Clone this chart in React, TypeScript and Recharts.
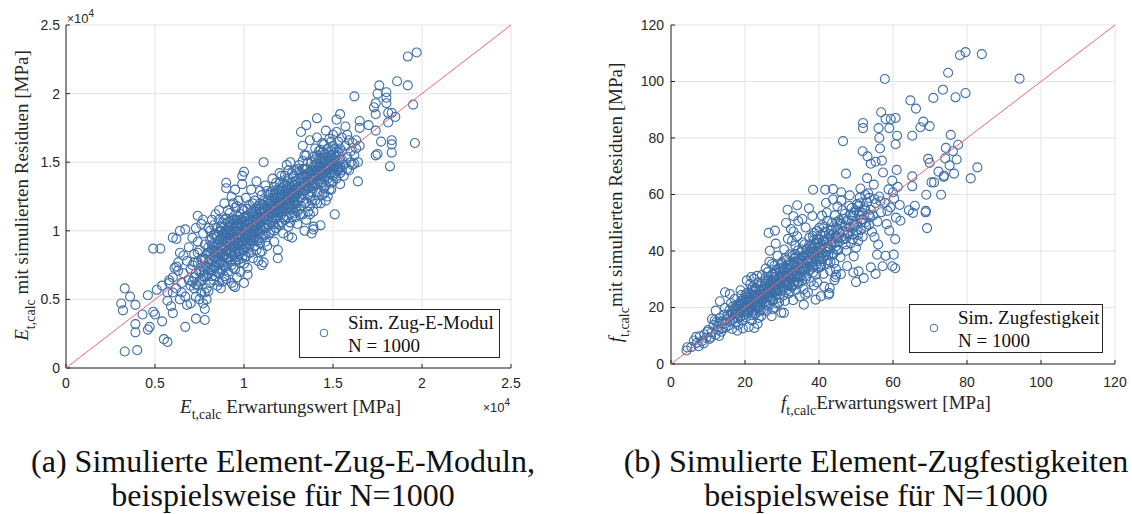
import React from "react";
import { ScatterChart, Scatter, XAxis, YAxis, ZAxis, CartesianGrid, Legend } from "recharts";

// E-Modul in units of 1e4 MPa
const eModulOutliers: [number, number][] = [
  [0.33, 0.12], [0.4, 0.13], [0.31, 0.47], [0.33, 0.58], [0.32, 0.42], [0.36, 0.52], [0.39, 0.46], [0.39, 0.32],
  [0.39, 0.26], [0.43, 0.39], [0.46, 0.28], [0.47, 0.3], [0.46, 0.53], [0.49, 0.41], [0.5, 0.39], [0.49, 0.87],
  [0.53, 0.87], [0.55, 0.21], [0.57, 0.19], [0.54, 0.34], [0.51, 0.57], [0.54, 0.6], [0.57, 0.49], [0.6, 0.4],
  [0.6, 0.95], [0.62, 0.94], [0.64, 1.0], [0.67, 1.01], [0.67, 0.3], [0.73, 0.36], [0.78, 0.35], [0.78, 0.43],
  [0.74, 1.11], [0.77, 1.08], [0.64, 0.84], [0.62, 0.74], [0.58, 0.64], [0.6, 0.55],
  [1.97, 2.3], [1.92, 2.27], [1.86, 2.09], [1.92, 2.06], [1.76, 2.06], [1.75, 2.0], [1.8, 2.01], [1.8, 1.97],
  [1.8, 1.93], [1.62, 1.98], [1.74, 1.93], [1.73, 1.9], [1.74, 1.85], [1.74, 1.73], [1.95, 1.92], [1.81, 1.86],
  [1.83, 1.86], [1.85, 1.83], [1.81, 1.79], [1.96, 1.64], [1.83, 1.66], [1.83, 1.63], [1.83, 1.57], [1.82, 1.47],
  [1.74, 1.55], [1.75, 1.56], [1.77, 1.65], [1.7, 1.77], [1.65, 1.8], [1.65, 1.75], [1.64, 1.36], [1.62, 1.49],
  [1.54, 1.85], [1.52, 1.81], [1.41, 1.82], [1.35, 1.77], [1.32, 1.72], [1.51, 1.12], [1.43, 1.04], [1.39, 1.01],
  [1.34, 1.0], [1.38, 0.98], [1.19, 0.8], [1.11, 0.77], [1.1, 0.75], [1.25, 0.96], [1.11, 1.5], [1.0, 1.43],
  [0.99, 1.4], [0.9, 1.35], [0.9, 1.31], [1.02, 0.68], [1.0, 0.62], [0.94, 0.6], [0.95, 0.59],
];

const eModulCore: [number, number][] = [
  [0.58, 0.62], [0.6, 0.66], [0.62, 0.58], [0.63, 0.71], [0.65, 0.55], [0.66, 0.69], [0.67, 0.52], [0.68, 0.78],
  [0.69, 0.64], [0.7, 0.47], [0.64, 0.5], [0.61, 0.73], [0.57, 0.55], [0.66, 0.82], [0.7, 0.6], [0.68, 0.46],
  [0.59, 0.45], [0.63, 0.77], [0.69, 0.88], [0.65, 0.62],
  [0.71, 0.75], [0.72, 0.58], [0.72, 0.83], [0.73, 0.69], [0.73, 0.52], [0.74, 0.92], [0.74, 0.77], [0.75, 0.63],
  [0.75, 0.86], [0.76, 0.71], [0.76, 0.55], [0.77, 0.98], [0.77, 0.8], [0.78, 0.66], [0.78, 0.9], [0.79, 0.74],
  [0.79, 0.58], [0.8, 0.84], [0.8, 1.02], [0.8, 0.69], [0.71, 0.95], [0.73, 1.02], [0.75, 0.5], [0.77, 0.47],
  [0.79, 0.5], [0.76, 1.05], [0.78, 0.55], [0.72, 0.66], [0.74, 0.6], [0.8, 0.56],
  [0.81, 0.79], [0.81, 0.93], [0.82, 0.71], [0.82, 1.08], [0.82, 0.86], [0.83, 0.64], [0.83, 0.97], [0.84, 0.81],
  [0.84, 1.12], [0.84, 0.74], [0.85, 0.9], [0.85, 0.6], [0.85, 1.02], [0.86, 0.84], [0.86, 0.69], [0.86, 1.15],
  [0.87, 0.95], [0.87, 0.77], [0.87, 0.58], [0.88, 1.06], [0.88, 0.88], [0.88, 0.72], [0.89, 0.99], [0.89, 0.82],
  [0.89, 1.2], [0.9, 0.65], [0.9, 0.92], [0.9, 1.09], [0.83, 0.89], [0.85, 0.77], [0.87, 1.03], [0.89, 0.75],
  [0.81, 1.0], [0.86, 0.93], [0.88, 0.63], [0.84, 0.67], [0.9, 0.8], [0.82, 0.78], [0.86, 1.08], [0.88, 0.97],
  [0.91, 0.86], [0.91, 1.02], [0.91, 0.7], [0.92, 1.13], [0.92, 0.94], [0.92, 0.78], [0.93, 1.25], [0.93, 0.88],
  [0.93, 0.62], [0.94, 1.05], [0.94, 0.97], [0.94, 0.73], [0.95, 1.17], [0.95, 0.84], [0.95, 1.3], [0.96, 0.91],
  [0.96, 1.08], [0.96, 0.66], [0.97, 1.0], [0.97, 0.79], [0.97, 1.22], [0.98, 0.95], [0.98, 1.12], [0.98, 0.7],
  [0.99, 1.03], [0.99, 0.87], [0.99, 1.34], [1.0, 0.98], [1.0, 1.15], [1.0, 0.76], [0.91, 0.95], [0.92, 1.07],
  [0.93, 0.99], [0.94, 0.82], [0.95, 1.0], [0.96, 1.18], [0.97, 0.9], [0.98, 1.05], [0.99, 0.8], [1.0, 1.06],
  [0.91, 1.15], [0.93, 0.75], [0.95, 0.93], [0.97, 1.1], [0.99, 0.96], [0.92, 0.89], [0.94, 1.2], [0.96, 0.99],
  [0.98, 0.84], [1.0, 0.9],
  [1.01, 1.04], [1.01, 0.88], [1.01, 1.24], [1.02, 0.96], [1.02, 1.11], [1.02, 0.73], [1.03, 1.02], [1.03, 1.19],
  [1.03, 0.84], [1.04, 1.07], [1.04, 0.92], [1.04, 1.3], [1.05, 1.0], [1.05, 1.15], [1.05, 0.8], [1.06, 1.09],
  [1.06, 0.95], [1.06, 1.22], [1.07, 1.03], [1.07, 0.86], [1.07, 1.36], [1.08, 1.12], [1.08, 0.98], [1.08, 0.78],
  [1.09, 1.06], [1.09, 1.2], [1.09, 0.91], [1.1, 1.14], [1.1, 1.01], [1.1, 0.85], [1.02, 1.01], [1.04, 1.13],
  [1.06, 1.02], [1.08, 1.05], [1.1, 1.26], [1.03, 0.93], [1.05, 1.06], [1.07, 1.16], [1.09, 0.99], [1.01, 0.98],
  [1.11, 1.09], [1.11, 1.22], [1.12, 0.97], [1.12, 1.15], [1.12, 1.33], [1.13, 1.05], [1.13, 0.89], [1.14, 1.2],
  [1.14, 1.1], [1.15, 1.28], [1.15, 0.99], [1.15, 1.16], [1.16, 1.07], [1.16, 1.38], [1.17, 1.13], [1.17, 0.92],
  [1.17, 1.24], [1.18, 1.02], [1.18, 1.18], [1.19, 1.3], [1.19, 1.1], [1.19, 0.86], [1.2, 1.21], [1.2, 1.04],
  [1.2, 1.42], [1.13, 1.17], [1.15, 1.12], [1.17, 1.05], [1.19, 1.16], [1.11, 1.03], [1.14, 1.26], [1.16, 1.19],
  [1.18, 1.35], [1.2, 1.14], [1.12, 1.08],
  [1.21, 1.27], [1.21, 1.12], [1.22, 1.2], [1.22, 1.35], [1.22, 0.98], [1.23, 1.25], [1.23, 1.08], [1.24, 1.31],
  [1.24, 1.17], [1.24, 1.48], [1.25, 1.22], [1.25, 1.03], [1.25, 1.38], [1.26, 1.28], [1.26, 1.13], [1.27, 1.24],
  [1.27, 1.42], [1.27, 0.95], [1.28, 1.19], [1.28, 1.33], [1.29, 1.1], [1.29, 1.27], [1.3, 1.22], [1.3, 1.45],
  [1.3, 1.05], [1.22, 1.29], [1.24, 1.24], [1.26, 1.2], [1.28, 1.27], [1.23, 1.15], [1.25, 1.3], [1.27, 1.16],
  [1.29, 1.36], [1.21, 1.4], [1.26, 1.5],
  [1.31, 1.3], [1.31, 1.16], [1.32, 1.38], [1.32, 1.24], [1.33, 1.12], [1.33, 1.45], [1.34, 1.29], [1.34, 1.2],
  [1.35, 1.55], [1.35, 1.35], [1.35, 1.08], [1.36, 1.26], [1.36, 1.42], [1.37, 1.32], [1.37, 1.18], [1.38, 1.5],
  [1.38, 1.28], [1.39, 1.14], [1.39, 1.4], [1.4, 1.33], [1.4, 1.6], [1.4, 1.22], [1.32, 1.32], [1.34, 1.4],
  [1.36, 1.14], [1.38, 1.37], [1.33, 1.62], [1.37, 1.66], [1.39, 1.03], [1.31, 1.48],
  [1.41, 1.44], [1.41, 1.28], [1.42, 1.52], [1.42, 1.36], [1.43, 1.2], [1.43, 1.47], [1.44, 1.57], [1.44, 1.4],
  [1.45, 1.5], [1.45, 1.31], [1.45, 1.63], [1.46, 1.45], [1.46, 1.22], [1.47, 1.54], [1.47, 1.38], [1.48, 1.48],
  [1.48, 1.67], [1.49, 1.42], [1.49, 1.3], [1.5, 1.53], [1.5, 1.4], [1.5, 1.7], [1.42, 1.44], [1.44, 1.49],
  [1.46, 1.52], [1.48, 1.36], [1.43, 1.59], [1.47, 1.25], [1.45, 1.43], [1.41, 1.68], [1.46, 1.73], [1.44, 1.26],
  [1.49, 1.58],
  [1.51, 1.47], [1.51, 1.6], [1.52, 1.38], [1.52, 1.55], [1.53, 1.65], [1.53, 1.44], [1.54, 1.52], [1.54, 1.34],
  [1.55, 1.58], [1.55, 1.68], [1.56, 1.48], [1.56, 1.4], [1.57, 1.62], [1.58, 1.54], [1.58, 1.45], [1.59, 1.66],
  [1.6, 1.58], [1.6, 1.5], [1.61, 1.64], [1.62, 1.55], [1.63, 1.6], [1.64, 1.5], [1.63, 1.66], [1.65, 1.62],
  [1.52, 1.72], [1.57, 1.76], [1.54, 1.42], [1.59, 1.44], [1.61, 1.48], [1.58, 1.7],
];

// the thick band along the diagonal
const eModulDense: [number, number][] = [
  [0.8, 0.88], [0.81, 0.72], [0.82, 0.95], [0.83, 0.81], [0.84, 0.97], [0.85, 0.84], [0.86, 0.76], [0.87, 0.89],
  [0.88, 0.81], [0.89, 0.93], [0.9, 0.86], [0.91, 0.99], [0.92, 0.84], [0.93, 1.04], [0.94, 0.91], [0.95, 0.78],
  [0.96, 1.03], [0.97, 0.95], [0.98, 1.0], [0.99, 0.92], [1.0, 1.02], [1.01, 0.93], [1.02, 1.06], [1.03, 0.98],
  [1.04, 1.01], [1.05, 1.1], [1.06, 0.99], [1.07, 1.09], [1.08, 0.93], [1.09, 1.13], [1.1, 1.07], [1.11, 1.16],
  [1.12, 1.02], [1.13, 1.12], [1.14, 1.04], [1.15, 1.21], [1.16, 1.13], [1.17, 1.18], [1.18, 1.09], [1.19, 1.24],
  [1.2, 1.17], [1.21, 1.2], [1.22, 1.26], [1.23, 1.19], [1.24, 1.28], [1.25, 1.17], [1.26, 1.33], [1.27, 1.29],
  [1.28, 1.24], [1.29, 1.31], [1.3, 1.27], [1.31, 1.38], [1.32, 1.29], [1.33, 1.35], [1.34, 1.45], [1.35, 1.3],
  [1.36, 1.37], [1.37, 1.43], [1.38, 1.33], [1.39, 1.47], [1.4, 1.4], [1.41, 1.49], [1.42, 1.41], [1.43, 1.53],
  [1.44, 1.45], [1.45, 1.39], [1.46, 1.56], [1.47, 1.47], [1.48, 1.42], [1.49, 1.51], [1.5, 1.46], [1.51, 1.54],
  [1.52, 1.49], [1.53, 1.57], [1.54, 1.47], [1.55, 1.52],
  [0.84, 0.88], [0.86, 0.99], [0.88, 0.9], [0.9, 1.0], [0.92, 0.97], [0.94, 1.08], [0.96, 0.87], [0.98, 1.08],
  [1.0, 0.94], [1.02, 1.16], [1.04, 0.97], [1.06, 1.14], [1.08, 1.01], [1.1, 1.19], [1.12, 1.11], [1.14, 1.16],
  [1.16, 1.24], [1.18, 1.14], [1.2, 1.29], [1.22, 1.16], [1.24, 1.36], [1.26, 1.25], [1.28, 1.4], [1.3, 1.34],
  [1.32, 1.18], [1.34, 1.35], [1.36, 1.31], [1.38, 1.44], [1.4, 1.47], [1.42, 1.58], [1.44, 1.35], [1.46, 1.4],
  [1.48, 1.53], [1.5, 1.62], [1.52, 1.45], [1.54, 1.6], [0.83, 1.04], [0.85, 0.7], [0.87, 0.84], [0.89, 1.08],
  [0.91, 0.79], [0.93, 0.93], [0.95, 1.08], [0.97, 0.85], [0.99, 1.16], [1.01, 1.1], [1.03, 0.89], [1.05, 1.2],
  [1.07, 0.94], [1.09, 1.29], [1.11, 0.97], [1.13, 1.29], [1.15, 1.06], [1.17, 1.32], [1.19, 1.2], [1.21, 1.06],
  [1.23, 1.33], [1.25, 1.44], [1.27, 1.1], [1.29, 1.2], [1.31, 1.24], [1.33, 1.51], [1.35, 1.21], [1.37, 1.25],
  [1.39, 1.54], [1.41, 1.34], [1.43, 1.41], [1.45, 1.56], [1.47, 1.6], [1.49, 1.35], [1.51, 1.42], [1.53, 1.5],
  [1.55, 1.44],
  [0.7, 0.72], [0.71, 0.63], [0.72, 0.77], [0.73, 0.61], [0.74, 0.84], [0.75, 0.7], [0.76, 0.64], [0.77, 0.74],
  [0.78, 0.79], [0.79, 0.67], [0.8, 0.77], [0.81, 0.62], [0.82, 0.9], [0.83, 0.74], [0.84, 0.85], [0.85, 0.96],
  [0.86, 0.63], [0.87, 0.71], [0.88, 0.77], [0.89, 0.67], [0.9, 0.74], [0.91, 0.91], [0.92, 1.0], [0.93, 0.81],
  [0.94, 0.88], [0.95, 0.72], [0.96, 0.81], [0.97, 1.05], [0.98, 0.77], [0.99, 0.9], [1.0, 1.1], [1.01, 0.81],
  [1.02, 0.87], [1.03, 1.08], [1.04, 0.84], [1.05, 0.93], [1.06, 1.04], [1.07, 1.0], [1.08, 1.18], [1.09, 0.84],
  [1.1, 0.95], [1.11, 1.13], [1.12, 0.92], [1.13, 1.22], [1.14, 0.98], [1.15, 1.06], [1.16, 1.29], [1.17, 1.0],
  [1.18, 1.24], [1.19, 1.05], [1.2, 1.35], [1.21, 1.17], [1.22, 1.1], [1.23, 1.4], [1.24, 1.1], [1.25, 1.25],
  [1.26, 1.06], [1.27, 1.35], [1.28, 1.13], [1.29, 1.44], [1.3, 1.14], [1.31, 1.43], [1.32, 1.12], [1.33, 1.27],
  [1.34, 1.55], [1.35, 1.4], [1.36, 1.5], [1.37, 1.12], [1.38, 1.22], [1.39, 1.31], [1.4, 1.52], [1.41, 1.2],
  [1.42, 1.28], [1.43, 1.35], [1.44, 1.64], [1.45, 1.27], [1.46, 1.33], [1.47, 1.45], [1.48, 1.3], [1.49, 1.65],
  [1.5, 1.36],
  [0.86, 0.9], [0.87, 1.0], [0.88, 0.86], [0.89, 0.96], [0.9, 0.83], [0.91, 1.06], [0.92, 0.92], [0.93, 0.86],
  [0.94, 1.0], [0.95, 0.89], [0.96, 0.95], [0.97, 0.83], [0.98, 0.98], [0.99, 1.07], [1.0, 0.86], [1.01, 1.0],
  [1.02, 0.91], [1.03, 1.05], [1.04, 0.95], [1.05, 1.04], [1.06, 0.89], [1.07, 1.07], [1.08, 1.09], [1.09, 1.02],
  [0.9, 0.97], [0.92, 1.03], [0.94, 0.95], [0.96, 1.05], [0.98, 0.91], [1.0, 1.0], [0.88, 0.93], [0.93, 1.09],
  [0.97, 0.97], [1.01, 1.07], [1.05, 0.97],
  [1.15, 1.18], [1.16, 1.1], [1.17, 1.27], [1.18, 1.21], [1.19, 1.13], [1.2, 1.25], [1.21, 1.23], [1.22, 1.14],
  [1.23, 1.29], [1.24, 1.21], [1.25, 1.27], [1.26, 1.17], [1.27, 1.32], [1.28, 1.22], [1.29, 1.25], [1.3, 1.31],
  [1.21, 1.31], [1.23, 1.22], [1.25, 1.19], [1.27, 1.27], [1.29, 1.17], [1.18, 1.28], [1.16, 1.16], [1.2, 1.2],
  [1.24, 1.33], [1.28, 1.3],
  [1.4, 1.43], [1.41, 1.38], [1.42, 1.47], [1.43, 1.44], [1.44, 1.52], [1.45, 1.46], [1.46, 1.48], [1.47, 1.42],
  [1.48, 1.5], [1.49, 1.45], [1.5, 1.49], [1.51, 1.51], [1.52, 1.58], [1.53, 1.46], [1.45, 1.53], [1.43, 1.38],
  [1.47, 1.51], [1.49, 1.55], [1.41, 1.55], [1.44, 1.42],
  [1.05, 1.12], [1.07, 1.12], [1.1, 1.1], [1.12, 1.18], [1.13, 1.08], [1.14, 1.14], [1.11, 1.19], [1.09, 1.16],
  [1.33, 1.39], [1.35, 1.45], [1.36, 1.33], [1.37, 1.38], [1.38, 1.41], [1.39, 1.35], [1.32, 1.42], [1.34, 1.33],
  [0.76, 0.79], [0.78, 0.71], [0.79, 0.83], [0.81, 0.85], [0.82, 0.67], [0.83, 0.86], [0.84, 0.78], [0.85, 0.81],
  [0.8, 0.73], [0.77, 0.67],
];

// Zugfestigkeit in MPa
const zugOutliers: [number, number][] = [
  [84.0, 109.7], [79.6, 110.4], [78.1, 109.3], [94.2, 101.0], [57.8, 100.9], [74.9, 103.1], [73.5, 97.1], [79.6, 95.9],
  [76.9, 94.4], [70.9, 94.2], [64.7, 93.3], [66.2, 90.4], [56.8, 89.1], [60.7, 87.1], [59.4, 86.7], [58.0, 86.7],
  [51.9, 85.3], [51.9, 83.5], [56.1, 83.5], [59.0, 83.5], [68.2, 85.8], [67.4, 83.8], [69.9, 84.2], [65.2, 80.8],
  [61.1, 80.8], [60.7, 77.8], [56.3, 80.0], [56.5, 76.3], [46.5, 78.9], [75.6, 81.1], [74.3, 76.5], [76.2, 75.3],
  [77.6, 77.6], [74.1, 72.8], [75.3, 70.3], [77.2, 72.4], [69.5, 72.6], [69.9, 71.2], [76.5, 67.4], [82.8, 69.6],
  [81.0, 65.7], [72.3, 68.1], [73.7, 66.2], [73.8, 66.7], [70.4, 64.3], [71.1, 64.3], [69.0, 59.9], [73.0, 59.9],
  [68.8, 53.7], [68.9, 54.2], [69.2, 48.1], [65.2, 66.4], [65.2, 62.9], [65.9, 56.0], [65.4, 53.5], [64.3, 54.4],
  [47.3, 67.4], [51.8, 75.3], [53.1, 73.5], [55.3, 71.6], [60.6, 44.2], [60.2, 38.7], [58.0, 38.3], [55.7, 38.7],
  [59.8, 34.6], [60.6, 33.9], [57.2, 34.6], [55.3, 31.9], [54.0, 34.2], [50.0, 29.0], [50.7, 32.8], [49.3, 32.4],
  [52.1, 30.4], [38.4, 61.7], [41.7, 61.7], [43.8, 61.9], [46.0, 60.8], [34.1, 56.2], [31.5, 54.6], [33.1, 52.3],
  [26.4, 46.4], [28.1, 47.2], [14.6, 25.4], [13.2, 22.2], [12.1, 18.9], [11.1, 15.9], [4.2, 4.8], [4.4, 5.9],
  [6.8, 9.6], [7.5, 6.3], [30.5, 18.1], [35.9, 21.0], [39.1, 22.8], [40.5, 24.0], [42.6, 24.5], [42.8, 25.1],
  [44.4, 30.7], [44.6, 31.6],
];

const zugCore: [number, number][] = [
  [5.5, 6], [6.2, 8.3], [7, 7.5], [7.8, 9.8], [8.4, 8.1], [9, 10.5], [9.5, 9.2], [10, 12], [10.4, 8.9], [11, 11.2],
  [11.5, 13.8], [12, 10.3], [12.3, 14.9], [12.8, 12.1], [13.2, 16.3], [13.6, 11.4], [14, 14.2], [14.4, 17.5],
  [14.8, 12.9], [15, 15.8], [8.8, 7.3], [10.8, 9.5], [12.6, 13.2], [13.9, 12.6], [11.8, 15.5], [9.8, 11.3],
  [13, 9.9], [14.6, 19.8],
  [15.3, 17.2], [15.5, 13.6], [15.8, 19], [16, 15.1], [16.2, 21.5], [16.5, 12.4], [16.7, 17.8], [17, 16.4],
  [17.2, 23], [17.5, 14.7], [17.7, 19.3], [18, 18], [18.2, 13.8], [18.5, 21.2], [18.7, 16.6], [19, 24.4],
  [19.2, 15.3], [19.5, 19.9], [19.7, 17.4], [20, 22.3], [15.9, 24.8], [16.8, 20.4], [17.9, 11.8], [18.8, 26.1],
  [19.4, 12.6], [16.4, 18.5], [18.3, 19.6],
  [20.2, 16.5], [20.4, 20.8], [20.6, 25.2], [20.8, 18.3], [21, 13.1], [21.2, 22.6], [21.4, 28.3], [21.6, 19.5],
  [21.8, 15.4], [22, 24.1], [22.2, 21], [22.4, 30.2], [22.6, 17.6], [22.8, 23.3], [23, 26.8], [23.2, 19.9],
  [23.4, 14.2], [23.6, 22], [23.8, 28.9], [24, 20.5], [24.2, 25.6], [24.4, 17], [24.6, 31.5], [24.8, 23.7],
  [25, 19.2], [20.5, 29.6], [21.3, 24.9], [22.1, 27.2], [22.9, 20.1], [23.7, 16.3], [24.5, 26.3], [21.7, 30.8],
  [23.3, 31.2], [24.1, 22.9], [22.5, 12.8], [20.9, 22.1], [23.9, 18.8], [21.9, 17.3],
  [25.2, 27.4], [25.4, 22.1], [25.6, 33.8], [25.8, 18.7], [26, 25.3], [26.2, 29.5], [26.4, 20.6], [26.6, 36.2],
  [26.8, 24], [27, 27.9], [27.2, 16.9], [27.4, 31.7], [27.6, 22.8], [27.8, 26.5], [28, 34.9], [28.2, 20],
  [28.4, 29.1], [28.6, 24.7], [28.8, 38.3], [29, 27], [29.2, 21.8], [29.4, 32.6], [29.6, 25.9], [29.8, 18.2],
  [30, 30.4], [25.5, 30.3], [26.3, 26.8], [27.1, 23.4], [27.9, 30.8], [28.7, 21.4], [29.5, 28.3], [26.7, 40.1],
  [28.3, 42.6], [29.9, 36], [25.9, 21], [27.5, 19.5], [29.1, 33.9], [26.1, 32.5], [28.9, 26.1], [27.3, 35.4],
  [30.2, 34.1], [30.4, 26.7], [30.6, 40.5], [30.8, 22.3], [31, 31.2], [31.2, 36.8], [31.4, 28.6], [31.6, 44.3],
  [31.8, 24.9], [32, 33.5], [32.2, 30], [32.4, 47.8], [32.6, 27.3], [32.8, 38.2], [33, 22.6], [33.2, 35.7],
  [33.4, 31.4], [33.6, 41.9], [33.8, 26.2], [34, 36.3], [34.2, 29], [34.4, 50.6], [34.6, 33.2], [34.8, 23.9],
  [35, 39.5], [30.5, 30.9], [31.3, 33.8], [32.1, 25.7], [32.9, 32.1], [33.7, 37.9], [34.5, 28.4], [31.1, 49.9],
  [32.7, 43.6], [34.1, 45.2], [30.9, 37.5], [33.3, 27.9], [34.9, 31.1], [31.7, 29.4], [33.1, 46.9], [32.3, 35.1],
  [35.2, 35.6], [35.4, 29.7], [35.6, 43], [35.8, 26.4], [36, 37.9], [36.2, 32.5], [36.4, 48.3], [36.6, 31],
  [36.8, 40.7], [37, 25.3], [37.2, 36.1], [37.4, 44.8], [37.6, 33.3], [37.8, 29.1], [38, 39.4], [38.2, 52.4],
  [38.4, 35], [38.6, 27.8], [38.8, 42.5], [39, 37.2], [39.2, 31.6], [39.4, 47.1], [39.6, 40], [39.8, 33.9],
  [40, 44.1], [35.5, 51.3], [36.5, 38.6], [37.5, 41.5], [38.5, 34.4], [39.5, 28.9], [36.3, 24.6], [37.3, 55.1],
  [38.7, 46.4], [39.9, 39.1],
  [40.3, 41.3], [40.6, 35.2], [40.9, 49.2], [41.2, 31.9], [41.5, 43.7], [41.8, 38.4], [42.1, 53.6], [42.4, 36.7],
  [42.7, 46], [43, 33], [43.3, 42.2], [43.6, 50.1], [43.9, 38.9], [44.2, 29.7], [44.5, 45.3], [44.8, 40.4],
  [45, 55.8], [40.5, 45.6], [41.4, 27.4], [42.3, 40.9], [43.2, 47.5], [44.1, 35.8], [44.9, 50.3], [41.9, 57],
  [43.8, 58.2], [40.8, 52.5], [42.9, 26.9], [44.6, 33.6],
  [45.4, 43.1], [45.8, 37.8], [46.2, 49.6], [46.6, 44.2], [47, 53.2], [47.4, 40.1], [47.8, 46.7], [48.2, 56],
  [48.6, 42.8], [49, 50.7], [49.4, 38.1], [49.8, 54.4], [50.2, 47.3], [50.6, 43.5], [51, 58.9], [51.4, 50],
  [51.8, 45.1], [46, 57.9], [47.6, 34.7], [48.8, 55.2], [50, 41.2], [51.2, 62.1], [45.9, 31.8], [49.2, 46],
  [50.8, 52.7],
  [52.3, 55.5], [52.8, 48.6], [53.3, 60.4], [53.8, 52.1], [54.3, 46.8], [54.8, 63.5], [55.3, 56.9], [55.8, 50.4],
  [56.3, 59.3], [56.8, 53.7], [57.3, 67.8], [57.8, 57.1], [58.3, 49.5], [58.8, 61.8], [59.3, 55.4], [59.8, 64.9],
  [60.3, 58.6], [60.8, 51.8], [61.3, 62.7], [61.8, 56.3], [53, 65.8], [55, 44.9], [57, 72], [59, 47.2],
  [61, 68.7], [54, 70.9], [56, 42.3], [58.5, 54.2], [60, 60.8], [62, 50.7],
];

const zugDense: [number, number][] = [
  [16, 17], [17, 19.5], [18, 16.2], [19, 20.8], [20, 18.5], [21, 21.7], [22, 19], [23, 24.5], [24, 22], [25, 26.6],
  [26, 23.6], [27, 29.4], [28, 25.3], [29, 30.5], [30, 27.6], [31, 32.4], [32, 28.3], [33, 34.8], [34, 31.2],
  [35, 36.6], [36, 33.7], [37, 38.5], [38, 36.2], [39, 41.3], [40, 38], [41, 43.4], [42, 39.7], [43, 45.2],
  [44, 42.6], [45, 47.9], [46, 44.8], [47, 48.5], [48, 46.1], [49, 52.4], [50, 49.3], [51, 54], [52, 51.3],
  [53, 57.2], [54, 54.6], [55, 58.4],
  [16.6, 15.6], [17.6, 20.9], [18.6, 18.9], [19.6, 22.7], [20.6, 20.3], [21.6, 24.7], [22.6, 22.2], [23.6, 26.1],
  [24.6, 21.7], [25.6, 28.3], [26.6, 25.8], [27.6, 31.5], [28.6, 28.2], [29.6, 33.6], [30.6, 29.5], [31.6, 35.2],
  [32.6, 31.7], [33.6, 38.9], [34.6, 35.9], [35.6, 33], [36.6, 40.2], [37.6, 37.7], [38.6, 43.9], [39.6, 36.4],
  [40.6, 42], [41.6, 46.8], [42.6, 41.7], [43.6, 39.2], [44.6, 48.4], [45.6, 46.4], [46.6, 51.3], [47.6, 45.9],
  [48.6, 52.9], [49.6, 48.7], [50.6, 55.9], [51.6, 53.6], [52.6, 50.1], [53.6, 58.8], [54.6, 52.5], [56.6, 57.6],
  [20.3, 23.4], [21.1, 18.8], [22.3, 25.9], [23.1, 21.3], [24.3, 27.7], [25.1, 23.9], [26.3, 30.9], [27.1, 26.2],
  [28.1, 32.3], [29.3, 23.4], [30.1, 35.3], [31.3, 26.1], [32.1, 38.8], [33.3, 29.3], [34.3, 40.2], [35.1, 30.6],
  [36.1, 42.3], [37.1, 34.2], [38.3, 45.3], [39.3, 35.1], [40.1, 48.2], [41.1, 37.5], [42.2, 50.7], [43.1, 36.2],
  [44.3, 52.6], [45.2, 40.3], [46.3, 54.4], [47.2, 42.3], [48.3, 59.7], [49.1, 44.2], [50.3, 56.6], [51.3, 47.5],
  [52.5, 59.8], [53.5, 49.2],
  [25.7, 24.5], [26.9, 28.6], [28.5, 27.1], [29.7, 31.4], [30.3, 28.8], [31.5, 31], [32.5, 33.9], [33.5, 30.6],
  [34.7, 37.2], [35.7, 34.3], [36.7, 36.5], [37.7, 39.8], [38.9, 38.3], [39.7, 42.6], [40.7, 39.3], [41.7, 41.1],
  [42.5, 44.3], [43.5, 43.1], [44.7, 44.7], [45.7, 49.8], [23.5, 23.2], [22.7, 26.8], [21.5, 20.5], [24.7, 24.2],
  [27.7, 28.9], [19.9, 20.2], [18.9, 22.4], [17.4, 17.7], [13.8, 15.1], [12.9, 14.3],
  [18, 20.6], [19, 18.4], [20, 21.1], [21, 23.5], [22, 22.7], [23, 20.8], [24, 24.6], [25, 22.9], [26, 27.2],
  [27, 25], [28, 29.7], [29, 26.4], [30, 32.2], [31, 29.1], [32, 31.4], [33, 33.1], [34, 34.2], [35, 32.4],
  [36, 35.8], [37, 36.8], [38, 40.8], [39, 38.9], [40, 41.2], [41, 39.4], [42, 43.5], [43, 40.8], [44, 46.2],
  [45, 44.5],
  [19.5, 21.7], [20.5, 19.4], [21.5, 22.9], [22.5, 24.3], [23.5, 20.5], [24.5, 23.3], [25.5, 25.4], [26.5, 28.7],
  [27.5, 27.2], [28.5, 25.8], [29.5, 30.1], [30.5, 33.4], [31.5, 28.2], [32.5, 30.3], [33.5, 35.5], [34.5, 33.4],
  [35.5, 38.1], [36.5, 34.8], [37.5, 35.5], [38.5, 39.9], [39.5, 42.9], [40.5, 37.1], [41.5, 45.3], [42.5, 38.6],
  [43.5, 47.4], [44.5, 41.6],
  [17.2, 18.7], [18.4, 17.3], [20.1, 24.6], [21.8, 26.3], [22.9, 17.8], [24.3, 19.3], [25.3, 29.3], [26.4, 24.2],
  [27.4, 22.3], [28.4, 33.3], [29.4, 28.6], [30.4, 24.3], [31.4, 34], [32.4, 27.6], [33.4, 37.3], [34.4, 30.6],
  [35.4, 40.5], [36.4, 30.1], [37.4, 42.3], [38.4, 32.4], [39.4, 44.1], [40.4, 34.4], [41.4, 48.5], [42.4, 35.4],
  [46.5, 47.1], [47.5, 50.8], [48.5, 48.3], [49.5, 53.6], [50.5, 45.6], [51.5, 51.2], [52.5, 54.7], [53.5, 52.8],
  [45.5, 50.9], [47.3, 44.4], [49.3, 49.5], [51.1, 56.9],
];

const eTicks = [0, 0.5, 1, 1.5, 2, 2.5];
const zugTicks = [0, 20, 40, 60, 80, 100, 120];
const sampleSize = 1000;

const BLUE = "#3d6fa9";
const RED = "#ee6677";
const INK = "#262626";
const SERIF = "'Liberation Serif', 'Times New Roman', serif";
const SANS = "'Liberation Sans', Arial, sans-serif";

const toPoints = (pairs: [number, number][]) => pairs.map(([x, y]) => ({ x, y }));

interface PanelProps {
  points: { x: number; y: number }[];
  ticks: number[];
  symbol: string;
  gap: string;
  legendTitle: string;
  margin: { top: number; right: number; bottom: number; left: number };
  yTickMargin: number;
  xTickMargin: number;
  yLabelOffset: number;
  yLabelShift: number;
  xLabelShift: number;
  legendPos: { left: number; top: number; width: number; height: number };
  exponent?: boolean;
}

const Exponent = ({ x, y, anchor }: { x: number; y: number; anchor: "start" | "end" }) => (
  <text x={x} y={y} textAnchor={anchor} fontFamily={SANS} fontSize={13} fill={INK}>
    <tspan fontSize={12}>×</tspan>
    <tspan>10</tspan>
    <tspan fontSize={10} dy={-6}>4</tspan>
  </text>
);

const Panel = (p: PanelProps) => {
  const max = p.ticks[p.ticks.length - 1];
  const tickStyle = { fontFamily: SANS, fontSize: 14, fill: INK };
  // 1:1 line, drawn as a two-point series so it sits on top of the circles
  const diagonal = [
    { x: 0, y: 0 },
    { x: max, y: max },
  ];

  const yLabel = (props: any) => {
    const vb = props.viewBox;
    const bx = vb.x + vb.width - p.yLabelOffset;
    const cy = vb.y + vb.height / 2 + p.yLabelShift;
    const px = vb.x + vb.width;
    return (
      <g>
        <text x={bx} y={cy} transform={`rotate(-90 ${bx} ${cy})`} textAnchor="middle" fontFamily={SERIF} fontSize={19} fill={INK}>
          <tspan fontStyle="italic">{p.symbol}</tspan>
          <tspan fontSize={14} dy={7}>t,calc</tspan>
          <tspan dy={-7}>{p.gap}mit simulierten Residuen [MPa]</tspan>
        </text>
        {p.exponent && <Exponent x={px + 1} y={vb.y - 2} anchor="start" />}
      </g>
    );
  };

  const xLabel = (props: any) => {
    const vb = props.viewBox;
    const cx = vb.x + vb.width / 2 + p.xLabelShift;
    const by = vb.y + 45;
    return (
      <g>
        <text x={cx} y={by} textAnchor="middle" fontFamily={SERIF} fontSize={19} fill={INK}>
          <tspan fontStyle="italic">{p.symbol}</tspan>
          <tspan fontSize={14} dy={6}>t,calc</tspan>
          <tspan dy={-6}>{p.gap}Erwartungswert [MPa]</tspan>
        </text>
        {p.exponent && <Exponent x={vb.x + vb.width - 1} y={by - 1} anchor="end" />}
      </g>
    );
  };

  const legendContent = () => (
    <div
      style={{
        width: p.legendPos.width,
        height: p.legendPos.height,
        boxSizing: "border-box",
        border: `1px solid ${INK}`,
        background: "#fff",
        position: "relative",
        fontFamily: SERIF,
        fontSize: 19,
        color: "#111",
      }}
    >
      <svg width={40} height={40} style={{ position: "absolute", left: 0, top: 0 }}>
        <circle cx={24} cy={23} r={3.8} fill="none" stroke={BLUE} strokeWidth={1} />
      </svg>
      <div style={{ position: "absolute", left: 48, top: 1, lineHeight: "23px", whiteSpace: "nowrap" }}>
        {p.legendTitle}
        <br />N = {sampleSize}
      </div>
    </div>
  );

  return (
    <ScatterChart width={566} height={430} margin={p.margin}>
      <CartesianGrid stroke="#e3e3e3" />
      <XAxis
        dataKey="x"
        type="number"
        domain={[0, max]}
        ticks={p.ticks}
        interval={0}
        height={32}
        tickSize={-4}
        tickMargin={p.xTickMargin}
        tick={tickStyle}
        stroke={INK}
        label={{ content: xLabel }}
      />
      <YAxis
        dataKey="y"
        type="number"
        domain={[0, max]}
        ticks={p.ticks}
        interval={0}
        width={30}
        tickSize={-4}
        tickMargin={p.yTickMargin}
        tick={tickStyle}
        stroke={INK}
        label={{ content: yLabel }}
      />
      <XAxis
        xAxisId="top"
        orientation="top"
        type="number"
        domain={[0, max]}
        ticks={p.ticks}
        interval={0}
        height={0}
        tickSize={-4}
        tickFormatter={() => ""}
        stroke={INK}
      />
      <YAxis
        yAxisId="right"
        orientation="right"
        type="number"
        domain={[0, max]}
        ticks={p.ticks}
        interval={0}
        width={0}
        tickSize={-4}
        tickFormatter={() => ""}
        stroke={INK}
      />
      <ZAxis range={[46, 46]} />
      <Scatter data={p.points} fill="none" stroke={BLUE} strokeWidth={1.1} isAnimationActive={false} />
      <Scatter
        data={diagonal}
        line={{ stroke: RED, strokeWidth: 1 }}
        shape={() => <g />}
        legendType="none"
        isAnimationActive={false}
      />
      <Legend
        verticalAlign="middle"
        layout="horizontal"
        content={legendContent}
        wrapperStyle={{ position: "absolute", left: p.legendPos.left, top: p.legendPos.top, width: p.legendPos.width, height: p.legendPos.height }}
      />
    </ScatterChart>
  );
};

const captionStyle: React.CSSProperties = {
  position: "absolute",
  top: 444,
  width: 600,
  textAlign: "center",
  fontFamily: SERIF,
  fontSize: 32,
  lineHeight: "34px",
  color: "#111",
  whiteSpace: "nowrap",
};

export default function App() {
  return (
    <div style={{ position: "absolute", left: 0, top: 0, width: 1132, height: 514, background: "#fff", overflow: "hidden" }}>
      <div style={{ position: "absolute", left: 0, top: 0 }}>
        <Panel
          points={toPoints([...eModulCore, ...eModulDense, ...eModulOutliers])}
          ticks={eTicks}
          symbol="E"
          gap=" "
          legendTitle="Sim. Zug-E-Modul"
          margin={{ top: 25, right: 55, bottom: 30, left: 36 }}
          yTickMargin={10}
          xTickMargin={14}
          yLabelOffset={38}
          yLabelShift={-1}
          xLabelShift={2}
          legendPos={{ left: 299, top: 309, width: 201, height: 49 }}
          exponent
        />
      </div>
      <div style={{ position: "absolute", left: 566, top: 0 }}>
        <Panel
          points={toPoints([...zugCore, ...zugDense, ...zugOutliers])}
          ticks={zugTicks}
          symbol="f"
          gap=""
          legendTitle="Sim. Zugfestigkeit"
          margin={{ top: 25, right: 17, bottom: 34, left: 75 }}
          yTickMargin={11}
          xTickMargin={17}
          yLabelOffset={49}
          yLabelShift={8}
          xLabelShift={-7}
          legendPos={{ left: 343, top: 304, width: 194, height: 49 }}
        />
      </div>
      <div style={{ ...captionStyle, left: 283 - 300 }}>
        (a) Simulierte Element-Zug-E-Moduln,
        <br />
        beispielsweise für N={sampleSize}
      </div>
      <div style={{ ...captionStyle, left: 876 - 300 }}>
        (b) Simulierte Element-Zugfestigkeiten
        <br />
        beispielsweise für N={sampleSize}
      </div>
    </div>
  );
}
